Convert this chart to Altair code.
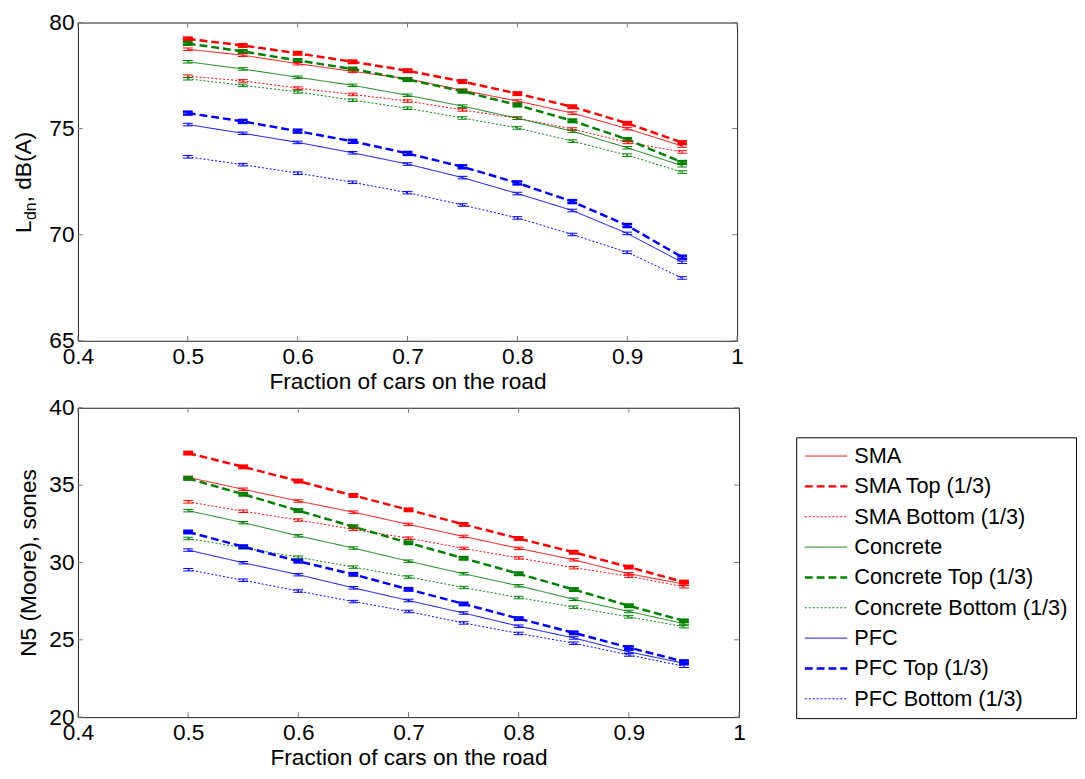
import altair as alt
import pandas as pd

fractions = [0.50, 0.55, 0.60, 0.65, 0.70, 0.75, 0.80, 0.85, 0.90, 0.95]
series_names = ["SMA", "SMA Top (1/3)", "SMA Bottom (1/3)",
                "Concrete", "Concrete Top (1/3)", "Concrete Bottom (1/3)",
                "PFC", "PFC Top (1/3)", "PFC Bottom (1/3)"]

# Ldn, dB(A)
ldn_sma = [78.74, 78.46, 78.06, 77.70, 77.35, 76.81, 76.30, 75.73, 75.00, 74.18]
ldn_sma_top = [79.23, 78.92, 78.55, 78.15, 77.73, 77.22, 76.65, 76.03, 75.25, 74.34]
ldn_sma_bot = [77.47, 77.25, 76.91, 76.61, 76.30, 75.88, 75.49, 74.98, 74.35, 73.90]
ldn_con = [78.15, 77.81, 77.42, 77.04, 76.57, 76.06, 75.49, 74.88, 74.10, 73.25]
ldn_con_top = [79.01, 78.64, 78.21, 77.81, 77.31, 76.76, 76.11, 75.37, 74.49, 73.41]
ldn_con_bot = [77.35, 77.04, 76.73, 76.34, 75.96, 75.50, 75.03, 74.41, 73.75, 72.95]
ldn_pfc = [75.19, 74.78, 74.35, 73.86, 73.33, 72.69, 71.94, 71.14, 70.06, 68.70]
ldn_pfc_top = [75.73, 75.34, 74.88, 74.40, 73.83, 73.20, 72.44, 71.56, 70.43, 68.94]
ldn_pfc_bot = [73.67, 73.30, 72.90, 72.47, 71.98, 71.40, 70.79, 70.01, 69.17, 67.96]
ldn_err = [0.06, 0.06, 0.06, 0.06, 0.06, 0.06, 0.06, 0.07, 0.06]

# N5 (Moore), sones
n5_sma = [35.50, 34.73, 33.97, 33.25, 32.46, 31.68, 30.91, 30.17, 29.27, 28.60]
n5_sma_top = [37.07, 36.18, 35.26, 34.33, 33.40, 32.46, 31.55, 30.66, 29.70, 28.73]
n5_sma_bot = [33.92, 33.31, 32.74, 32.14, 31.57, 30.91, 30.29, 29.66, 29.11, 28.43]
n5_con = [33.35, 32.57, 31.72, 30.93, 30.08, 29.27, 28.49, 27.62, 26.83, 26.05]
n5_con_top = [35.43, 34.41, 33.35, 32.31, 31.27, 30.27, 29.27, 28.25, 27.20, 26.22]
n5_con_bot = [31.55, 30.95, 30.34, 29.70, 29.06, 28.38, 27.73, 27.11, 26.48, 25.85]
n5_pfc = [30.80, 29.98, 29.21, 28.36, 27.54, 26.73, 25.88, 25.12, 24.22, 23.48]
n5_pfc_top = [31.97, 31.02, 30.08, 29.23, 28.26, 27.32, 26.37, 25.45, 24.50, 23.59]
n5_pfc_bot = [29.53, 28.85, 28.15, 27.47, 26.83, 26.09, 25.41, 24.78, 24.02, 23.29]
n5_err = [0.08, 0.08, 0.08, 0.08, 0.08, 0.08, 0.08, 0.08, 0.08]

x_ticks = [0.4, 0.5, 0.6, 0.7, 0.8, 0.9, 1.0]
ldn_ticks = [65, 70, 75, 80]
n5_ticks = [20, 25, 30, 35, 40]

series_colors = ["#ff0000"] * 3 + ["#008000"] * 3 + ["#0000ff"] * 3
series_dash = [[1, 0], [8, 4], [2, 2]] * 3

FONT = "Liberation Sans"
FS = 23
WIDTH_EXPR = "test(/Top/, datum.series) ? 2.5 : 1"


def build(values, errs):
    rows = []
    for name, vals, e in zip(series_names, values, errs):
        for x, y in zip(fractions, vals):
            rows.append({"series": name, "x": x, "y": y, "lo": y - e, "hi": y + e})
    return pd.DataFrame(rows)


ldn_df = build([ldn_sma, ldn_sma_top, ldn_sma_bot, ldn_con, ldn_con_top, ldn_con_bot,
                ldn_pfc, ldn_pfc_top, ldn_pfc_bot], ldn_err)
n5_df = build([n5_sma, n5_sma_top, n5_sma_bot, n5_con, n5_con_top, n5_con_bot,
               n5_pfc, n5_pfc_top, n5_pfc_bot], n5_err)


def panel(df, dom, yticks, W, H, ytitle, legend):
    xs = alt.Scale(domain=[0.4, 1.0], nice=False, zero=False)
    ys = alt.Scale(domain=dom, nice=False, zero=False)
    xaxis = alt.Axis(values=x_ticks, title="Fraction of cars on the road", grid=False,
                     domain=False, ticks=False, tickSize=0, labelPadding=5, titlePadding=2,
                     labelFlush=False,
                     labelExpr="datum.value == 1 ? '1' : format(datum.value, '.1f')")
    yaxis = alt.Axis(values=yticks, title=ytitle, grid=False, domain=False, ticks=False,
                     tickSize=0, labelPadding=4, titlePadding=8, labelFlush=False)
    cscale = alt.Scale(domain=series_names, range=series_colors)
    dscale = alt.Scale(domain=series_names, range=series_dash)

    base = alt.Chart(df).transform_calculate(sw=WIDTH_EXPR)
    lines = base.mark_line().encode(
        x=alt.X("x:Q", scale=xs, axis=xaxis),
        y=alt.Y("y:Q", scale=ys, axis=yaxis),
        color=alt.Color("series:N", scale=cscale, legend=legend, sort=series_names),
        strokeDash=alt.StrokeDash("series:N", scale=dscale, legend=legend, sort=series_names),
        strokeWidth=alt.StrokeWidth("sw:Q", scale=None),
        detail="series:N",
        order=alt.Order("x:Q"),
    )
    ecol = alt.Color("series:N", scale=cscale, legend=None)
    ewid = alt.StrokeWidth("sw:Q", scale=None)
    vbar = base.mark_rule().encode(x="x:Q", y="lo:Q", y2="hi:Q", color=ecol, strokeWidth=ewid)
    cap_lo = base.mark_rule(xOffset=-5, x2Offset=5).encode(x="x:Q", x2="x:Q", y="lo:Q",
                                                         color=ecol, strokeWidth=ewid)
    cap_hi = base.mark_rule(xOffset=-5, x2Offset=5).encode(x="x:Q", x2="x:Q", y="hi:Q",
                                                         color=ecol, strokeWidth=ewid)

    tick_col = "#777777"
    xt = alt.Chart(pd.DataFrame({"t": x_ticks}))
    xt_b = xt.mark_rule(color=tick_col).encode(x=alt.X("t:Q", scale=xs), y=alt.value(H), y2=alt.value(H - 5))
    xt_t = xt.mark_rule(color=tick_col).encode(x=alt.X("t:Q", scale=xs), y=alt.value(0), y2=alt.value(5))
    yt = alt.Chart(pd.DataFrame({"t": yticks}))
    yt_l = yt.mark_rule(color=tick_col).encode(y=alt.Y("t:Q", scale=ys), x=alt.value(0), x2=alt.value(5))
    yt_r = yt.mark_rule(color=tick_col).encode(y=alt.Y("t:Q", scale=ys), x=alt.value(W), x2=alt.value(W - 5))

    return [xt_b, xt_t, yt_l, yt_r, lines, vbar, cap_lo, cap_hi]


W1, H1 = 669, 323
W2, H2 = 671, 314

top_layers = panel(ldn_df, [65, 80], ldn_ticks, W1, H1, None, None)

# y title with subscript for the top panel
start = H1 / 2 + 52
tL = alt.Chart(pd.DataFrame({"t": ["L"]})).mark_text(
    angle=270, align="left", baseline="alphabetic", font=FONT, fontSize=FS, color="black"
).encode(text="t:N", x=alt.value(-48), y=alt.value(start))
tdn = alt.Chart(pd.DataFrame({"t": ["dn"]})).mark_text(
    angle=270, align="left", baseline="alphabetic", font=FONT, fontSize=16, color="black"
).encode(text="t:N", x=alt.value(-43), y=alt.value(start - 13))
tdb = alt.Chart(pd.DataFrame({"t": [", dB(A)"]})).mark_text(
    angle=270, align="left", baseline="alphabetic", font=FONT, fontSize=FS, color="black"
).encode(text="t:N", x=alt.value(-48), y=alt.value(start - 31))

top = alt.layer(*top_layers, tL, tdn, tdb).properties(width=W1, height=H1)

legend = alt.Legend(
    title=None, orient="none", legendX=729, legendY=30,
    symbolType="M-1,0H3.2", symbolSize=420, labelFontSize=22, labelFont=FONT,
    labelColor="black", strokeColor="black", fillColor="white", padding=8,
    rowPadding=8.8, labelOffset=29, labelLimit=400, symbolFillColor="transparent",
    symbolStrokeWidth=alt.expr("test(/Top/, datum.value) ? 2.5 : 1"),
)
bottom_layers = panel(n5_df, [20, 40], n5_ticks, W2, H2, "N5 (Moore), sones", legend)
bottom = alt.layer(*bottom_layers).properties(width=W2, height=H2)

chart = alt.vconcat(top, bottom, spacing=2).resolve_scale(
    color="independent", strokeDash="independent",
    x="independent", y="independent"
).resolve_legend(
    color="independent", strokeDash="independent"
).configure(
    font=FONT,
    padding={"left": 4, "top": -3, "right": 0, "bottom": 0},
).configure_view(
    stroke="#222222", strokeWidth=1
).configure_axis(
    labelFont=FONT, labelFontSize=FS, labelColor="black",
    titleFont=FONT, titleFontSize=FS, titleColor="black", titleFontWeight="normal",
)

chart.save("out.html", embed_options={"renderer": "svg", "actions": False})
